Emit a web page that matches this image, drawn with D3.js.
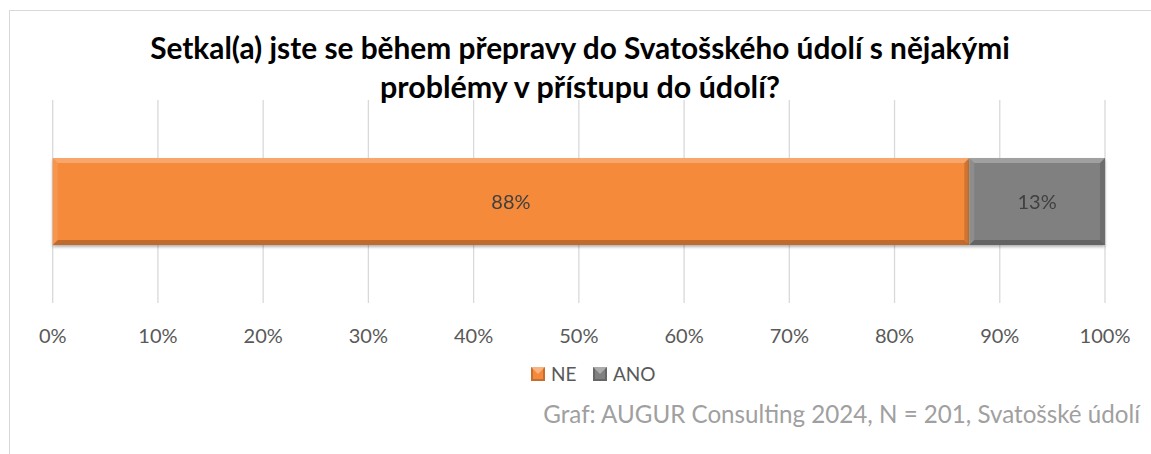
<!DOCTYPE html>
<html>
<head>
<meta charset="utf-8">
<script src="https://cdn.jsdelivr.net/npm/d3@7"></script>
<style>
  html, body { margin: 0; padding: 0; background: #fff; }
  svg { display: block; }
</style>
</head>
<body>
<script>
// data
const series = ["NE", "ANO"];
const values = [0.871, 0.129];
const valueLabels = ["88%", "13%"];
const ticks = [0, 0.1, 0.2, 0.3, 0.4, 0.5, 0.6, 0.7, 0.8, 0.9, 1];
const colors = ["#f68a3b", "#808080"];
const titleLines = ["Setkal(a) jste se během přepravy do Svatošského údolí s nějakými", "problémy v přístupu do údolí?"];
const source = "Graf: AUGUR Consulting 2024, N = 201, Svatošské údolí";

const width = 1151, height = 454;
const font = "Lato, 'Open Sans', sans-serif";

const svg = d3.select("body").append("svg")
    .attr("width", width)
    .attr("height", height);

const defs = svg.append("defs");
defs.append("filter").attr("id", "shadow")
    .attr("x", "-5%").attr("y", "-20%").attr("width", "110%").attr("height", "150%")
  .append("feDropShadow")
    .attr("dx", 0).attr("dy", 2).attr("stdDeviation", 1.5)
    .attr("flood-color", "#000").attr("flood-opacity", 0.3);

// chart frame
svg.append("rect")
    .attr("x", 9.5).attr("y", 10.5)
    .attr("width", 1300).attr("height", 600)
    .attr("fill", "none")
    .attr("stroke", "#d9d9d9");

// title, fitted to the width of the original lines
const titleWidths = [860, 400];
svg.append("g")
    .selectAll("text")
    .data(titleLines)
    .join("text")
      .attr("x", 580)
      .attr("y", (d, i) => 59 + i * 39)
      .attr("text-anchor", "middle")
      .attr("font-family", font)
      .attr("font-weight", "bold")
      .attr("font-size", 24)
      .attr("fill", "#000")
      .text(d => d)
      .each(function(d, i) {
        const w = this.getComputedTextLength();
        d3.select(this).attr("font-size", 24 * titleWidths[i] / w);
      });

const x = d3.scaleLinear([0, 1], [52.7, 1105]);
const y = d3.scaleBand(["q"], [100, 303]).padding(0.4);

// gridlines
svg.append("g")
    .attr("stroke", "#d9d9d9")
    .attr("stroke-width", 1.3)
  .selectAll("line")
  .data(ticks)
  .join("line")
    .attr("x1", d => x(d)).attr("x2", d => x(d))
    .attr("y1", 100).attr("y2", 303);

// tick labels
svg.append("g")
  .selectAll("text")
  .data(ticks)
  .join("text")
    .attr("x", d => x(d))
    .attr("y", 343)
    .attr("text-anchor", "middle")
    .attr("font-family", font)
    .attr("font-size", 20)
    .attr("fill", "#595959")
    .text(d3.format(".0%"));

// stacked bar
const stack = values.map((v, i) => ({
  key: series[i], v, label: valueLabels[i], color: colors[i],
  x0: d3.sum(values.slice(0, i)), x1: d3.sum(values.slice(0, i + 1))
}));

const b = 5; // bevel
const y0 = y("q"), h = y.bandwidth();
const seg = svg.append("g")
  .selectAll("g")
  .data(stack)
  .join("g")
    .attr("filter", "url(#shadow)");

seg.append("rect")
    .attr("x", d => x(d.x0))
    .attr("y", y0)
    .attr("width", d => x(d.x1) - x(d.x0))
    .attr("height", h)
    .attr("fill", d => d.color);

// bevel edges
const edges = [
  {k: "top", c: "#fff", o: 0.25, p: (a, c) => [[a, y0], [c, y0], [c - b, y0 + b], [a + b, y0 + b]]},
  {k: "bottom", c: "#000", o: 0.22, p: (a, c) => [[a, y0 + h], [c, y0 + h], [c - b, y0 + h - b], [a + b, y0 + h - b]]},
  {k: "left", c: "#fff", o: 0.1, p: (a, c) => [[a, y0], [a + b, y0 + b], [a + b, y0 + h - b], [a, y0 + h]]},
  {k: "right", c: "#000", o: 0.15, p: (a, c) => [[c, y0], [c - b, y0 + b], [c - b, y0 + h - b], [c, y0 + h]]}
];
seg.each(function(d) {
  const a = x(d.x0), c = x(d.x1);
  d3.select(this).selectAll("polygon")
    .data(edges)
    .join("polygon")
      .attr("points", e => e.p(a, c).join(" "))
      .attr("fill", e => e.c)
      .attr("fill-opacity", e => e.o);
});

seg.append("text")
    .attr("x", d => (x(d.x0) + x(d.x1)) / 2)
    .attr("y", y0 + h / 2 + 7)
    .attr("text-anchor", "middle")
    .attr("font-family", font)
    .attr("font-size", 20)
    .attr("fill", "#404040")
    .text(d => d.label);

// legend
const legend = svg.append("g")
  .selectAll("g")
  .data(stack)
  .join("g")
    .attr("transform", (d, i) => `translate(${[531, 593][i]},367)`);

legend.append("rect")
    .attr("width", 14).attr("height", 14)
    .attr("fill", d => d.color);
legend.append("polygon")
    .attr("points", "0,0 14,0 7,7")
    .attr("fill", "#fff").attr("fill-opacity", 0.35);
legend.append("polygon")
    .attr("points", "0,14 14,14 14,0 12,2 12,12 2,12 2,2 0,0")
    .attr("fill", "#000").attr("fill-opacity", 0.2);
legend.append("text")
    .attr("x", 20).attr("y", 14)
    .attr("font-family", font)
    .attr("font-size", 19)
    .attr("fill", "#595959")
    .text(d => d.key);

// source note
svg.append("text")
    .attr("x", 1140)
    .attr("y", 423)
    .attr("text-anchor", "end")
    .attr("font-family", font)
    .attr("font-size", 20)
    .attr("fill", "#a0a0a0")
    .text(source)
    .each(function() {
      const w = this.getComputedTextLength();
      d3.select(this).attr("font-size", 20 * 597 / w);
    });
</script>
</body>
</html>
